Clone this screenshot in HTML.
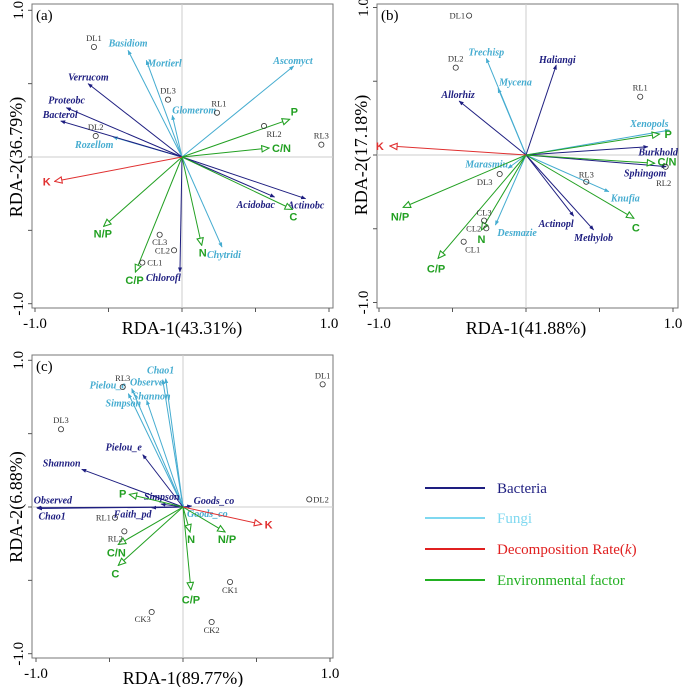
<!DOCTYPE html>
<html><head><meta charset="utf-8">
<style>
html,body{margin:0;padding:0;background:#fff;}
svg{display:block;}
</style></head>
<body>
<svg id="fig" width="685" height="687" viewBox="0 0 685 687" xmlns="http://www.w3.org/2000/svg">
<defs>
<marker id="mBac" viewBox="0 0 10 10" refX="9" refY="5" markerWidth="5" markerHeight="5" orient="auto"><path d="M0,1L10,5L0,9z" fill="#1e1e80"/></marker>
<marker id="mFun" viewBox="0 0 10 10" refX="9" refY="5" markerWidth="5" markerHeight="5" orient="auto"><path d="M0,1L10,5L0,9z" fill="#45acd0"/></marker>
<marker id="mEnv" viewBox="0 0 10 10" refX="9" refY="5" markerWidth="9" markerHeight="9" orient="auto" markerUnits="userSpaceOnUse"><path d="M1,1.5L9,5L1,8.5z" fill="#fff" stroke="#22a022" stroke-width="1.2"/></marker>
<marker id="mK" viewBox="0 0 10 10" refX="9" refY="5" markerWidth="9" markerHeight="9" orient="auto" markerUnits="userSpaceOnUse"><path d="M1,1.5L9,5L1,8.5z" fill="#fff" stroke="#e03030" stroke-width="1.2"/></marker>
</defs>
<g id="legend">
<line x1="425" y1="488" x2="485" y2="488" stroke="#1e1e80" stroke-width="2"/>
<text x="497" y="493" font-family="Liberation Serif, serif" font-size="15" fill="#1e1e80">Bacteria</text>
<line x1="425" y1="518" x2="485" y2="518" stroke="#7fd8f0" stroke-width="2"/>
<text x="497" y="523" font-family="Liberation Serif, serif" font-size="15" fill="#7fd8f0">Fungi</text>
<line x1="425" y1="549" x2="485" y2="549" stroke="#e02020" stroke-width="2"/>
<text x="497" y="554" font-family="Liberation Serif, serif" font-size="15" fill="#e02020">Decomposition Rate(<tspan font-style="italic">k</tspan>)</text>
<line x1="425" y1="580" x2="485" y2="580" stroke="#22b022" stroke-width="2"/>
<text x="497" y="585" font-family="Liberation Serif, serif" font-size="15" fill="#22b022">Environmental factor</text>
</g>
</svg>
<script>
// ---- Panel (a) data ----
const aFunNames=["Basidiom","Mortierl","Glomerom","Ascomyct","Rozellom","Chytridi"];
const aFunX=[-0.367,-0.243,-0.066,0.760,-0.469,0.272];
const aFunY=[0.727,0.659,0.284,0.620,0.136,-0.614];
const aBacNames=["Verrucom","Proteobc","Bacterol","Acidobac","Actinobc","Chlorofl"];
const aBacX=[-0.639,-0.787,-0.825,0.630,0.841,-0.014];
const aBacY=[0.500,0.336,0.245,-0.273,-0.284,-0.784];
const aEnvNames=["P","C/N","C","N","C/P","N/P"];
const aEnvX=[0.732,0.592,0.751,0.134,-0.317,-0.533];
const aEnvY=[0.257,0.061,-0.357,-0.602,-0.784,-0.473];
const aKX=[-0.866];
const aKY=[-0.166];
const aSiteNames=["DL1","DL3","DL2","RL1","RL2","RL3","CL3","CL2","CL1"];
const aSiteX=[-0.599,-0.095,-0.587,0.238,0.558,0.948,-0.152,-0.054,-0.270];
const aSiteY=[0.750,0.391,0.143,0.302,0.211,0.084,-0.530,-0.636,-0.720];
// ---- Panel (b) data ----
const bFunNames=["Trechisp","Mycena","Marasmiu","Desmazie","Xenopols","Knufia"];
const bFunX=[-0.270,-0.190,-0.122,-0.208,0.976,0.564];
const bFunY=[0.655,0.452,-0.090,-0.475,0.169,-0.249];
const bBacNames=["Haliangi","Allorhiz","Burkhold","Sphingom","Actinopl","Methylob"];
const bBacX=[0.206,-0.455,0.829,0.954,0.324,0.460];
const bBacY=[0.610,0.366,0.056,-0.079,-0.414,-0.508];
const bEnvNames=["P","C/N","C","N","C/P","N/P"];
const bEnvX=[0.908,0.874,0.734,-0.303,-0.598,-0.836];
const bEnvY=[0.142,-0.056,-0.429,-0.508,-0.701,-0.355];
const bKX=[-0.926];
const bKY=[0.061];
const bSiteNames=["DL1","DL2","RL1","DL3","RL3","RL2","CL3","CL2","CL1"];
const bSiteX=[-0.387,-0.478,0.777,-0.179,0.410,0.950,-0.285,-0.270,-0.424];
const bSiteY=[0.945,0.592,0.395,-0.129,-0.181,-0.080,-0.445,-0.497,-0.588];
// ---- Panel (c) data ----
const cFunNames=["Chao1","Observe","Shannon","Pielou_e","Simpson","Goods_co"];
const cFunX=[-0.118,-0.138,-0.247,-0.349,-0.372,0.007];
const cFunY=[0.875,0.868,0.727,0.807,0.773,-0.014];
const cBacNames=["Pielou_e","Shannon","Observed","Chao1","Faith_pd","Simpson","Goods_co"];
const cBacX=[-0.274,-0.689,-0.995,-0.990,-0.213,-0.150,0.059];
const cBacY=[0.357,0.257,-0.005,-0.010,-0.005,0.020,0.007];
const cEnvNames=["P","C/N","C","N","N/P","C/P"];
const cEnvX=[-0.365,-0.440,-0.440,0.048,0.286,0.054];
const cEnvY=[0.086,-0.255,-0.398,-0.170,-0.170,-0.564];
const cKX=[0.535];
const cKY=[-0.118];
const cSiteNames=["DL1","DL3","RL3","DL2","RL1","RL2","CK1","CK3","CK2"];
const cSiteX=[0.950,-0.830,-0.410,0.859,-0.463,-0.399,0.320,-0.213,0.195];
const cSiteY=[0.836,0.530,0.818,0.052,-0.073,-0.166,-0.511,-0.716,-0.784];

// ---- label placement (layout only: pixel offsets from mark) ----
const S='start',E='end',M='middle';
const layoutA={fun:[[0,-4,M],[1,6,S],[0,-2,S],[19,-2,E],[-38,11,S],[-15,11,S]],
  bac:[[-20,-3,S],[-18,-4,S],[-18,-3,S],[-38,11,S],[-18,10,S],[-34,9,S]],
  env:[[1,-4,S],[3,4,S],[-3,11,S],[-3,11,S],[-10,12,S],[-10,11,S]],
  k:[[-4,4,E]],
  site:[[0,-6,M],[0,-6,M],[0,-6,M],[2,-6,M],[10,11,M],[0,-6,M],[0,10,M],[-4,3,E],[5,3,S]]};
const layoutB={fun:[[0,-3,M],[1,-3,S],[0,-1,E],[2,11,S],[-1,-3,E],[2,10,S]],
  bac:[[1,-2,M],[-1,-3,M],[30,9,E],[0,10,E],[0,11,E],[0,11,M]],
  env:[[5,4,S],[3,2,S],[-2,13,S],[0,13,M],[-2,14,M],[-3,13,M]],
  k:[[-6,4,E]],
  site:[[-4,3,E],[0,-6,M],[0,-6,M],[-15,11,M],[0,-4,M],[-2,19,M],[0,-5,M],[-5,3,E],[9,11,M]]};
const layoutC={fun:[[-5,-5,M],[-16,6,M],[5,-1,M],[-24,0,M],[-5,13,M],[3,8,S]],
  bac:[[-19,-4,M],[-20,-3,M],[-3,-4,S],[1,11,S],[-38,10,S],[-17,-4,S],[2,-2,S]],
  env:[[-3,3,E],[-2,12,M],[-3,12,M],[1,11,M],[2,11,M],[0,14,M]],
  k:[[3,4,S]],
  site:[[0,-6,M],[0,-6,M],[0,-6,M],[4,3,S],[-4,3,E],[-9,10,M],[0,11,M],[-9,10,M],[0,11,M]]};

const NS="http://www.w3.org/2000/svg";
const svg=document.getElementById('fig');
function mk(tag,attrs,parent){const e=document.createElementNS(NS,tag);for(const k in attrs)e.setAttribute(k,attrs[k]);(parent||svg).appendChild(e);return e;}
const SERIF="Liberation Serif, serif", SANS="Liberation Sans, sans-serif";
const slug=s=>s.toLowerCase().replace(/[^a-z0-9]+/g,'-');

function panel(p){
  const g=mk('g',{});
  
  
  const sx=v=>p.cx+v*p.ux, sy=v=>p.cy-v*p.uy;
  const fr=mk('rect',{x:p.fl,y:p.ft,width:p.fr-p.fl,height:p.fb-p.ft,fill:'none',stroke:'#777','stroke-width':1},g);
  
  
  mk('line',{x1:sx(0),y1:p.ft,x2:sx(0),y2:p.fb,stroke:'#ccc','stroke-width':1},g);
  mk('line',{x1:p.fl,y1:sy(0),x2:p.fr,y2:sy(0),stroke:'#ccc','stroke-width':1},g);
  for(const t of [-1,-0.5,0,0.5,1]){
    mk('line',{x1:sx(t),y1:p.fb,x2:sx(t),y2:p.fb+4,stroke:'#555'},g);
    mk('line',{x1:p.fl-4,y1:sy(t),x2:p.fl,y2:sy(t),stroke:'#555'},g);
  }
  const tickLabels=["-1.0","1.0"];
  const tx1=mk('text',{x:sx(-1),y:p.fb+20,'text-anchor':'middle','font-family':SERIF,'font-size':15},g);tx1.textContent=tickLabels[0];
  
  
  const tx2=mk('text',{x:sx(1),y:p.fb+20,'text-anchor':'middle','font-family':SERIF,'font-size':15},g);tx2.textContent=tickLabels[1];
  
  
  const ty1=mk('text',{x:0,y:0,'text-anchor':'middle','font-family':SERIF,'font-size':15,transform:`translate(${p.fl-9},${sy(1)}) rotate(-90)`},g);ty1.textContent=tickLabels[1];
  
  
  const ty2=mk('text',{x:0,y:0,'text-anchor':'middle','font-family':SERIF,'font-size':15,transform:`translate(${p.fl-9},${sy(-1)}) rotate(-90)`},g);ty2.textContent=tickLabels[0];
  
  
  const xt=mk('text',{x:sx(0),y:p.fb+26,'text-anchor':'middle','font-family':SERIF,'font-size':18},g);xt.textContent=p.xTitle;
  
  
  const yt=mk('text',{x:0,y:0,'text-anchor':'middle','font-family':SERIF,'font-size':18,transform:`translate(${p.fl-10},${sy(0)}) rotate(-90)`},g);yt.textContent=p.yTitle;
  
  
  const pl=mk('text',{x:p.fl+4,y:p.ft+16,'font-family':SERIF,'font-size':15},g);pl.textContent=p.label;
  
  

  function arrows(names,xs,ys,offs,color,marker,font,weight,style,size,kind){
    for(let i=0;i<xs.length;i++){
      const x=sx(xs[i]),y=sy(ys[i]);
      const ln=mk('line',{x1:sx(0),y1:sy(0),x2:x,y2:y,stroke:color,'stroke-width':1,'marker-end':`url(#${marker})`},g);
      
      
      const o=offs[i]||[0,-4,'middle'];
      const t=mk('text',{x:x+o[0],y:y+o[1],'text-anchor':o[2],'font-family':font,'font-size':size,'font-weight':weight,'font-style':style,fill:color},g);
      t.textContent=names[i];
      
      
    }
  }
  const L=p.layout;
  arrows(p.fun[0],p.fun[1],p.fun[2],L.fun,'#45acd0','mFun',SERIF,'bold','italic',10,'fungi');
  arrows(p.bac[0],p.bac[1],p.bac[2],L.bac,'#1e1e80','mBac',SERIF,'bold','italic',10,'bacteria');
  arrows(p.env[0],p.env[1],p.env[2],L.env,'#22a022','mEnv',SANS,'bold','normal',11,'env');
  arrows(["K"],p.k[0],p.k[1],L.k,'#e03030','mK',SANS,'bold','normal',11,'decomposition');
  for(let i=0;i<p.site[1].length;i++){
    const x=sx(p.site[1][i]),y=sy(p.site[2][i]);
    const c=mk('circle',{cx:x,cy:y,r:2.6,fill:'none',stroke:'#333','stroke-width':0.8},g);
    
    
    const o=L.site[i]||[0,-6,'middle'];
    const t=mk('text',{x:x+o[0],y:y+o[1],'text-anchor':o[2],'font-family':SERIF,'font-size':8.5,fill:'#333'},g);
    t.textContent=p.site[0][i];
    
    
  }
}
panel({id:'a',label:'(a)',cx:182,cy:157,ux:147,uy:146.7,fl:32,fr:333,ft:4,fb:308,xTitle:'RDA-1(43.31%)',yTitle:'RDA-2(36.79%)',layout:layoutA,
  fun:[aFunNames,aFunX,aFunY],bac:[aBacNames,aBacX,aBacY],env:[aEnvNames,aEnvX,aEnvY],k:[aKX,aKY],site:[aSiteNames,aSiteX,aSiteY]});
panel({id:'b',label:'(b)',cx:526,cy:155,ux:147,uy:147.5,fl:377,fr:678,ft:4,fb:308,xTitle:'RDA-1(41.88%)',yTitle:'RDA-2(17.18%)',layout:layoutB,
  fun:[bFunNames,bFunX,bFunY],bac:[bBacNames,bBacX,bBacY],env:[bEnvNames,bEnvX,bEnvY],k:[bKX,bKY],site:[bSiteNames,bSiteX,bSiteY]});
panel({id:'c',label:'(c)',cx:183,cy:507,ux:147,uy:146.7,fl:32,fr:333,ft:355,fb:658,xTitle:'RDA-1(89.77%)',yTitle:'RDA-2(6.88%)',layout:layoutC,
  fun:[cFunNames,cFunX,cFunY],bac:[cBacNames,cBacX,cBacY],env:[cEnvNames,cEnvX,cEnvY],k:[cKX,cKY],site:[cSiteNames,cSiteX,cSiteY]});
</script>
</body></html>
